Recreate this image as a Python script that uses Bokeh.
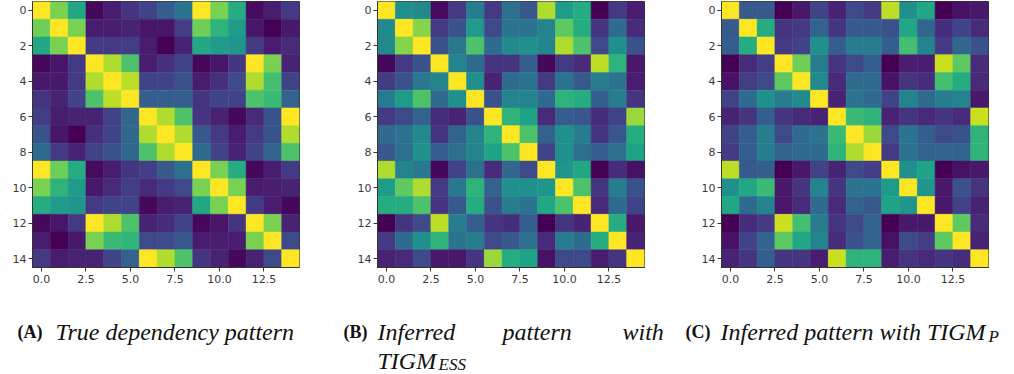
from bokeh.plotting import figure
from bokeh.layouts import row, column
from bokeh.models import (ColumnDataSource, LinearColorMapper, FixedTicker,
                          NumeralTickFormatter)
from bokeh.core.properties import value
from bokeh.palettes import Viridis256
from bokeh.transform import transform
from bokeh.embed import file_html
from bokeh.resources import INLINE

# 15 x 15 dependency matrices (row i, column j), values in [0, 1]
TRUE_PATTERN = [
    [1.00, 0.80, 0.60, 0.02, 0.08, 0.15, 0.20, 0.30, 0.38, 1.00, 0.80, 0.62, 0.03, 0.08, 0.17],
    [0.78, 1.00, 0.80, 0.08, 0.08, 0.10, 0.06, 0.06, 0.18, 0.78, 0.65, 0.55, 0.06, 0.00, 0.07],
    [0.60, 0.80, 1.00, 0.17, 0.17, 0.18, 0.08, 0.00, 0.10, 0.60, 0.55, 0.52, 0.17, 0.08, 0.12],
    [0.02, 0.06, 0.17, 1.00, 0.88, 0.72, 0.08, 0.14, 0.20, 0.02, 0.06, 0.16, 1.00, 0.80, 0.10],
    [0.07, 0.07, 0.17, 0.88, 1.00, 0.90, 0.20, 0.20, 0.25, 0.08, 0.14, 0.22, 0.88, 0.70, 0.20],
    [0.15, 0.10, 0.20, 0.72, 0.90, 1.00, 0.30, 0.30, 0.30, 0.15, 0.20, 0.20, 0.72, 0.68, 0.32],
    [0.18, 0.08, 0.10, 0.10, 0.20, 0.33, 1.00, 0.88, 0.72, 0.15, 0.10, 0.02, 0.12, 0.25, 1.00],
    [0.25, 0.06, 0.00, 0.14, 0.20, 0.33, 0.88, 1.00, 0.88, 0.27, 0.17, 0.08, 0.17, 0.25, 0.88],
    [0.35, 0.17, 0.10, 0.20, 0.25, 0.33, 0.72, 0.88, 1.00, 0.35, 0.20, 0.10, 0.20, 0.32, 0.72],
    [1.00, 0.78, 0.62, 0.03, 0.08, 0.15, 0.18, 0.28, 0.37, 1.00, 0.80, 0.62, 0.02, 0.08, 0.17],
    [0.80, 0.65, 0.55, 0.07, 0.12, 0.18, 0.12, 0.17, 0.22, 0.80, 1.00, 0.80, 0.08, 0.08, 0.10],
    [0.62, 0.55, 0.52, 0.17, 0.20, 0.20, 0.02, 0.08, 0.10, 0.60, 0.80, 1.00, 0.17, 0.08, 0.02],
    [0.02, 0.06, 0.17, 1.00, 0.88, 0.72, 0.10, 0.13, 0.20, 0.02, 0.06, 0.15, 1.00, 0.80, 0.10],
    [0.08, 0.00, 0.07, 0.80, 0.68, 0.66, 0.22, 0.22, 0.28, 0.08, 0.08, 0.08, 0.80, 1.00, 0.22],
    [0.17, 0.08, 0.10, 0.10, 0.20, 0.32, 1.00, 0.88, 0.72, 0.15, 0.10, 0.02, 0.10, 0.22, 1.00],
]

TIGM_ESS = [
    [1.00, 0.50, 0.48, 0.03, 0.17, 0.42, 0.17, 0.37, 0.27, 0.88, 0.55, 0.62, 0.00, 0.17, 0.08],
    [0.48, 1.00, 0.82, 0.17, 0.25, 0.55, 0.22, 0.38, 0.38, 0.45, 0.75, 0.62, 0.15, 0.35, 0.12],
    [0.48, 0.82, 1.00, 0.25, 0.40, 0.72, 0.35, 0.48, 0.50, 0.45, 0.88, 0.72, 0.22, 0.50, 0.25],
    [0.02, 0.17, 0.25, 1.00, 0.45, 0.35, 0.15, 0.15, 0.30, 0.02, 0.17, 0.12, 0.90, 0.65, 0.07],
    [0.17, 0.25, 0.40, 0.45, 1.00, 0.50, 0.10, 0.35, 0.38, 0.17, 0.38, 0.28, 0.42, 0.38, 0.08],
    [0.42, 0.55, 0.72, 0.35, 0.50, 1.00, 0.25, 0.45, 0.45, 0.35, 0.65, 0.62, 0.30, 0.42, 0.15],
    [0.17, 0.22, 0.32, 0.13, 0.10, 0.25, 1.00, 0.65, 0.58, 0.12, 0.30, 0.27, 0.13, 0.20, 0.85],
    [0.35, 0.38, 0.48, 0.15, 0.32, 0.45, 0.65, 1.00, 0.72, 0.32, 0.50, 0.42, 0.15, 0.27, 0.62],
    [0.27, 0.37, 0.50, 0.30, 0.37, 0.45, 0.58, 0.72, 1.00, 0.20, 0.50, 0.37, 0.30, 0.37, 0.58],
    [0.88, 0.45, 0.40, 0.02, 0.20, 0.37, 0.12, 0.33, 0.22, 1.00, 0.52, 0.60, 0.00, 0.13, 0.05],
    [0.55, 0.75, 0.88, 0.17, 0.40, 0.65, 0.32, 0.50, 0.50, 0.52, 1.00, 0.72, 0.15, 0.42, 0.25],
    [0.62, 0.62, 0.72, 0.15, 0.28, 0.62, 0.25, 0.42, 0.38, 0.60, 0.72, 1.00, 0.12, 0.35, 0.20],
    [0.00, 0.15, 0.22, 0.90, 0.42, 0.30, 0.15, 0.13, 0.30, 0.00, 0.15, 0.10, 1.00, 0.62, 0.07],
    [0.17, 0.35, 0.50, 0.65, 0.38, 0.42, 0.22, 0.27, 0.37, 0.12, 0.42, 0.35, 0.62, 1.00, 0.10],
    [0.10, 0.12, 0.22, 0.07, 0.07, 0.15, 0.85, 0.62, 0.58, 0.05, 0.22, 0.22, 0.08, 0.15, 1.00],
]

TIGM_P = [
    [1.00, 0.28, 0.28, 0.00, 0.07, 0.20, 0.10, 0.22, 0.17, 0.90, 0.50, 0.60, 0.00, 0.05, 0.07],
    [0.28, 1.00, 0.62, 0.15, 0.17, 0.32, 0.15, 0.28, 0.28, 0.25, 0.60, 0.33, 0.13, 0.20, 0.12],
    [0.30, 0.62, 1.00, 0.17, 0.20, 0.50, 0.30, 0.42, 0.42, 0.30, 0.70, 0.45, 0.17, 0.33, 0.25],
    [0.00, 0.12, 0.18, 1.00, 0.78, 0.42, 0.15, 0.22, 0.30, 0.00, 0.08, 0.08, 0.92, 0.75, 0.12],
    [0.05, 0.18, 0.22, 0.75, 1.00, 0.48, 0.12, 0.35, 0.35, 0.05, 0.15, 0.13, 0.70, 0.62, 0.12],
    [0.20, 0.35, 0.50, 0.42, 0.48, 1.00, 0.10, 0.38, 0.35, 0.20, 0.45, 0.35, 0.42, 0.45, 0.07],
    [0.10, 0.15, 0.30, 0.15, 0.12, 0.10, 1.00, 0.68, 0.65, 0.10, 0.15, 0.12, 0.15, 0.12, 0.92],
    [0.20, 0.30, 0.42, 0.22, 0.35, 0.38, 0.68, 1.00, 0.85, 0.22, 0.38, 0.30, 0.22, 0.25, 0.65],
    [0.17, 0.30, 0.42, 0.32, 0.35, 0.35, 0.65, 0.88, 1.00, 0.17, 0.38, 0.32, 0.32, 0.32, 0.65],
    [0.90, 0.28, 0.30, 0.00, 0.07, 0.20, 0.10, 0.22, 0.18, 1.00, 0.50, 0.58, 0.00, 0.05, 0.07],
    [0.50, 0.60, 0.68, 0.07, 0.15, 0.45, 0.15, 0.38, 0.38, 0.55, 1.00, 0.52, 0.07, 0.25, 0.15],
    [0.60, 0.35, 0.45, 0.07, 0.12, 0.35, 0.12, 0.32, 0.28, 0.58, 0.52, 1.00, 0.07, 0.20, 0.10],
    [0.00, 0.13, 0.17, 0.92, 0.70, 0.42, 0.15, 0.22, 0.32, 0.00, 0.07, 0.07, 1.00, 0.75, 0.12],
    [0.05, 0.20, 0.32, 0.75, 0.60, 0.45, 0.13, 0.25, 0.32, 0.05, 0.22, 0.18, 0.75, 1.00, 0.10],
    [0.10, 0.15, 0.30, 0.15, 0.15, 0.08, 0.92, 0.65, 0.65, 0.08, 0.15, 0.12, 0.15, 0.13, 1.00],
]

X_TICKS = [0, 2.5, 5, 7.5, 10, 12.5]
Y_TICKS = [0, 2, 4, 6, 8, 10, 12, 14]

# caption pieces: page-pixel anchor (left, baseline)
CAPTION_TAGS = ["(A)", "(B)", "(C)"]
CAPTION_TAG_X = [17, 343, 685]
CAPTION_WORDS = ["True dependency pattern", "Inferred", "pattern", "with",
                 "TIGM", "Inferred pattern with TIGM"]
CAPTION_WORD_X = [55, 377, 502, 622, 377, 720]
CAPTION_WORD_Y = [331, 331, 331, 331, 360, 331]
CAPTION_SUBS = ["ESS", "P"]
CAPTION_SUB_X = [438, 988]
CAPTION_SUB_Y = [364, 336]

SERIF = "Liberation Serif"
TICK_FONT = "DejaVu Sans"
PLOT_H = 285
CAP_H = 374 - PLOT_H


def heatmap(matrix, border_left, border_right):
    n = len(matrix)
    xs, ys, vs = [], [], []
    for i, r in enumerate(matrix):
        for j, v in enumerate(r):
            xs.append(j)
            ys.append(i)
            vs.append(v)
    src = ColumnDataSource(dict(x=xs, y=ys, v=vs))
    mapper = LinearColorMapper(palette=Viridis256, low=0, high=1)

    p = figure(width=338, height=PLOT_H, output_backend="svg", toolbar_location=None,
               x_range=(-0.5, n - 0.5), y_range=(n - 0.5, -0.5),
               min_border_left=border_left, min_border_right=border_right,
               min_border_top=1, min_border_bottom=PLOT_H - 269)
    p.rect("x", "y", width=1, height=1, source=src,
           fill_color=transform("v", mapper),
           line_color=transform("v", mapper), line_width=0.5)

    p.grid.visible = False
    p.background_fill_color = "white"
    p.border_fill_color = "white"
    p.outline_line_color = "#333333"
    p.outline_line_width = 1

    p.xaxis.ticker = FixedTicker(ticks=X_TICKS)
    p.xaxis.formatter = NumeralTickFormatter(format="0.0")
    p.yaxis.ticker = FixedTicker(ticks=Y_TICKS)
    for ax in (p.xaxis, p.yaxis):
        ax.axis_line_color = "#333333"
        ax.major_tick_line_color = "#333333"
        ax.major_tick_out = 4
        ax.major_tick_in = 0
        ax.minor_tick_line_color = None
        ax.major_label_text_font = TICK_FONT
        ax.major_label_text_font_size = "11px"
        ax.major_label_text_color = "#3a3a3a"
    p.xaxis.major_label_standoff = 3
    p.yaxis.major_label_standoff = 2
    return p


pa = heatmap(TRUE_PATTERN, 32, 39)
pb = heatmap(TIGM_ESS, 39, 32)
pc = heatmap(TIGM_P, 45, 26)

# caption strip below the three panels; its data space is page pixels
cap = figure(width=1014, height=CAP_H, output_backend="svg", toolbar_location=None,
             x_range=(0, 1014), y_range=(374, PLOT_H),
             min_border=0, min_border_left=0, min_border_right=0,
             min_border_top=0, min_border_bottom=0)
cap.axis.visible = False
cap.grid.visible = False
cap.outline_line_color = None

cap.text(x=CAPTION_TAG_X, y=[331] * 3, text=CAPTION_TAGS,
         text_font=value(SERIF), text_font_size=value("18px"),
         text_font_style=value("bold"), text_color="#111111",
         text_baseline=value("alphabetic"), text_align=value("left"))
cap.text(x=CAPTION_WORD_X, y=CAPTION_WORD_Y, text=CAPTION_WORDS,
         text_font=value(SERIF), text_font_size=value("24px"),
         text_font_style=value("italic"), text_color="#111111",
         text_baseline=value("alphabetic"), text_align=value("left"))
cap.text(x=CAPTION_SUB_X, y=CAPTION_SUB_Y, text=CAPTION_SUBS,
         text_font=value(SERIF), text_font_size=value("17px"),
         text_font_style=value("italic"), text_color="#111111",
         text_baseline=value("alphabetic"), text_align=value("left"))

layout = column(row(pa, pb, pc), cap)
open("out.html", "w").write(file_html(layout, INLINE))
